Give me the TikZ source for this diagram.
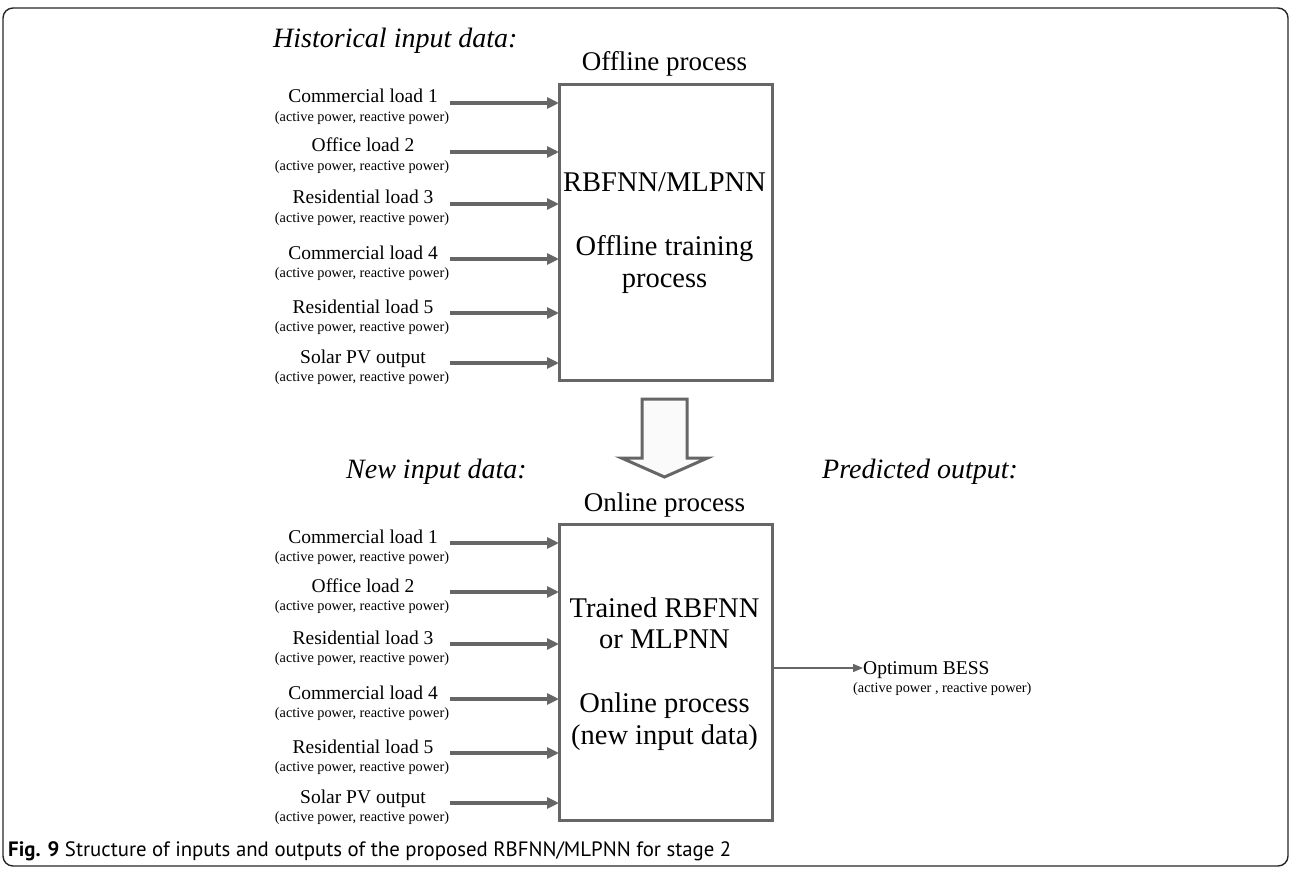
\documentclass[tikz,border=0pt]{standalone}
\usepackage{fontspec}
\setmainfont{Liberation Serif}
\newfontfamily\capfont{PT Sans}
\usetikzlibrary{arrows.meta,calc}
\definecolor{lgray}{HTML}{666666}
\begin{document}
\begin{tikzpicture}[x=1pt,y=-1pt,
  lbl/.style={inner sep=0pt, anchor=base, font=\fontsize{19.5}{22}\selectfont},
  sublbl/.style={inner sep=0pt, anchor=base, font=\fontsize{14.3}{16}\selectfont},
  head/.style={inner sep=0pt, anchor=base west, font=\fontsize{28}{32}\selectfont\itshape},
  title/.style={inner sep=0pt, anchor=base, font=\fontsize{27}{30}\selectfont},
  boxtxt/.style={inner sep=0pt, anchor=base, font=\fontsize{28.5}{32}\selectfont},
  procbox/.style={draw=lgray, line width=3.2pt, fill=white},
  inarrow/.style={draw=lgray, line width=3.3pt, -{Triangle[length=12pt,width=11pt]}, shorten >=-1pt},
  outarrow/.style={draw=lgray, line width=1.4pt, -{Triangle[length=10pt,width=8pt]}},
  bigarrow/.style={draw=lgray, line width=3pt, fill=gray!4, line join=miter}
]
\useasboundingbox (0,0) rectangle (1292,869);
% frame
\draw[black!85, line width=1.4pt, rounded corners=10pt] (3,8) rectangle (1288,866);

% headings
\node[head] (hist) at (273,48) {Historical input data:};
\node[head] (newin) at (346,478) {New input data:};
\node[head] (pred) at (822,478) {Predicted output:};

% top process
\node[title] (offt) at (664.5,71) {Offline process};
\node[procbox, minimum width=213pt, minimum height=296pt, anchor=north west] (topbox) at (558,83) {};
\node[boxtxt] (rb) at (664.5,191) {RBFNN/MLPNN};
\node[boxtxt] (offtr) at (664.5,255) {Offline training};
\node[boxtxt] (offpr) at (664.5,287) {process};

% bottom process
\node[title] (ont) at (664.5,511) {Online process};
\node[procbox, minimum width=213pt, minimum height=296pt, anchor=north west] (botbox) at (558,523) {};
\node[boxtxt] (trn) at (664.5,617) {Trained RBFNN};
\node[boxtxt] (trm) at (664.5,648) {or MLPNN};
\node[boxtxt] (onp) at (664.5,712) {Online process};
\node[boxtxt] (onn) at (664.5,744) {(new input data)};

% big hollow arrow
\coordinate (bigtop) at (664.5,399);
\draw[bigarrow] ($(bigtop)+(-22.5,0)$) -- ($(bigtop)+(22.5,0)$) -- ($(bigtop)+(22.5,59)$) -- ($(bigtop)+(43,59)$)
  -- ($(bigtop)+(0,78)$) -- ($(bigtop)+(-43,59)$) -- ($(bigtop)+(-22.5,59)$) -- cycle;

% top inputs
\foreach \i/\t/\ay in {1/Commercial load 1/103, 2/Office load 2/152, 3/Residential load 3/204, 4/Commercial load 4/259, 5/Residential load 5/313, 6/Solar PV output/363}{
  \node[lbl] (tl\i) at (363,\ay) {\t};
  \node[sublbl] (ts\i) at (362,\ay+18.5) {(active power, reactive power)};
  \coordinate (ta\i) at (450,\ay);
  \draw[inarrow] (ta\i) -- (ta\i -| topbox.west);
}
% bottom inputs
\foreach \i/\t/\ay in {1/Commercial load 1/543, 2/Office load 2/592, 3/Residential load 3/644, 4/Commercial load 4/699, 5/Residential load 5/753, 6/Solar PV output/803}{
  \node[lbl] (bl\i) at (363,\ay) {\t};
  \node[sublbl] (bs\i) at (362,\ay+18.5) {(active power, reactive power)};
  \coordinate (ba\i) at (450,\ay);
  \draw[inarrow] (ba\i) -- (ba\i -| botbox.west);
}

% output
\coordinate (outy) at (771,668);
\node[lbl, anchor=base west] (opt) at (863,674) {Optimum BESS};
\node[sublbl, anchor=base west] (opts) at (853,692) {(active power , reactive power)};
\draw[outarrow] (outy) -- (outy -| opt.west);

% caption
\node[inner sep=0pt, anchor=base west, font=\capfont\fontsize{20.8}{24}\selectfont] (cap) at (8,856)
  {\textbf{Fig. 9} Structure of inputs and outputs of the proposed RBFNN/MLPNN for stage 2};
\end{tikzpicture}
\end{document}
